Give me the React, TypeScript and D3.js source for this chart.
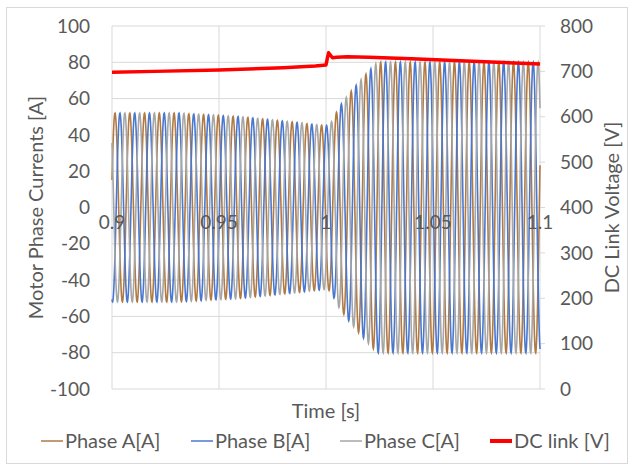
import * as d3 from "d3";
import { useEffect, useRef } from "react";

// axis ticks
const timeTicks = [0.9, 0.95, 1, 1.05, 1.1];
const timeLabels = ["0.9", "0.95", "1", "1.05", "1.1"];
const currentTicks = [-100, -80, -60, -40, -20, 0, 20, 40, 60, 80, 100];
const voltageTicks = [0, 100, 200, 300, 400, 500, 600, 700, 800];

const envTime = [0.9, 0.93, 0.96, 0.985, 1.0, 1.002, 1.0065, 1.0117, 1.0168, 1.0215, 1.024, 1.1];
const envAmp = [52, 52, 50, 47, 45, 46, 56, 64, 71, 77, 80, 80];
const phaseFreq = 145; // Hz, counted from the peaks
const firstPeak = 0.9014; // s, first peak of phase A

// DC link voltage [V]
const dcTime = [0.9, 0.92, 0.95, 0.98, 0.995, 1.0, 1.0006, 1.0012, 1.002, 1.003, 1.005, 1.01, 1.02, 1.04, 1.06, 1.08, 1.1];
const dcVolt = [698, 700, 703, 708, 712, 714, 728, 741, 736, 730, 731, 732, 731, 728, 724, 720, 716];

const series = [
    { name: "Phase A[A]", color: "#b17a45", shift: 0 },
    { name: "Phase B[A]", color: "#4a78cf", shift: 1 },
    { name: "Phase C[A]", color: "#a6a6a6", shift: 2 },
];
const dcSeries = { name: "DC link [V]", color: "#ff0000" };

const font = "Lato, 'Open Sans', sans-serif";
const textColor = "#595959";
const gridColor = "#d9d9d9";

function App() {
    const ref = useRef<SVGSVGElement>(null);

    useEffect(() => {
        const svg = d3.select(ref.current);
        svg.selectAll("*").remove();

        const width = 634;
        const height = 468;
        const left = 112, right = 540, top = 26, bottom = 389;

        svg.attr("width", width).attr("height", height);

        svg.append("rect")
            .attr("width", width).attr("height", height).attr("fill", "#fff");
        svg.append("rect")
            .attr("x", 6.5).attr("y", 7.5).attr("width", 621).attr("height", 456)
            .attr("fill", "none").attr("stroke", gridColor);

        const x = d3.scaleLinear().domain([0.9, 1.1]).range([left, right]);
        const y = d3.scaleLinear().domain([-100, 100]).range([bottom, top]);
        const y2 = d3.scaleLinear().domain([0, 800]).range([bottom, top]);

        // grid
        svg.append("g").selectAll("line")
            .data(currentTicks)
            .enter().append("line")
            .attr("x1", left).attr("x2", right)
            .attr("y1", d => y(d)).attr("y2", d => y(d))
            .attr("stroke", gridColor);
        svg.append("g").selectAll("line")
            .data(timeTicks)
            .enter().append("line")
            .attr("x1", d => x(d)).attr("x2", d => x(d))
            .attr("y1", top).attr("y2", bottom)
            .attr("stroke", gridColor);

        // right axis ticks
        svg.append("g").selectAll("line")
            .data(voltageTicks)
            .enter().append("line")
            .attr("x1", right).attr("x2", right + 5)
            .attr("y1", d => y2(d)).attr("y2", d => y2(d))
            .attr("stroke", gridColor);

        // tick labels
        svg.append("g").selectAll("text")
            .data(currentTicks)
            .enter().append("text")
            .attr("x", 90).attr("y", d => y(d))
            .attr("dy", "0.35em")
            .attr("text-anchor", "end")
            .style("font-family", font).style("font-size", "19px")
            .attr("fill", textColor)
            .text(d => d);
        svg.append("g").selectAll("text")
            .data(voltageTicks)
            .enter().append("text")
            .attr("x", 560).attr("y", d => y2(d))
            .attr("dy", "0.35em")
            .style("font-family", font).style("font-size", "19px")
            .attr("fill", textColor)
            .text(d => d);

        // phase currents
        const amp = d3.scaleLinear().domain(envTime).range(envAmp).clamp(true);
        const step = 1 / (phaseFreq * 48);
        const times = d3.range(0.9, 1.1 + step / 2, step);
        const line = d3.line<[number, number]>()
            .x(d => x(d[0]))
            .y(d => y(d[1]));

        series.forEach(s => {
            const pts: [number, number][] = times.map(t => [
                t,
                amp(t) * Math.cos(2 * Math.PI * phaseFreq * (t - firstPeak) - s.shift * 2 * Math.PI / 3),
            ]);
            svg.append("path")
                .attr("d", line(pts))
                .attr("fill", "none")
                .attr("stroke", s.color)
                .attr("stroke-width", 1.6);
        });

        // x tick labels sit under the zero line
        svg.append("g").selectAll("text")
            .data(timeTicks)
            .enter().append("text")
            .attr("x", d => x(d)).attr("y", y(0) + 15)
            .attr("dy", "0.35em")
            .attr("text-anchor", "middle")
            .style("font-family", font).style("font-size", "19px")
            .attr("fill", textColor)
            .text((d, i) => timeLabels[i]);

        // DC link
        const dcLine = d3.line<number>()
            .x((d, i) => x(dcTime[i]))
            .y(d => y2(d));
        svg.append("path")
            .attr("d", dcLine(dcVolt))
            .attr("fill", "none")
            .attr("stroke", dcSeries.color)
            .attr("stroke-width", 3.5)
            .attr("stroke-linejoin", "round");

        // axis titles
        svg.append("text")
            .attr("transform", `translate(36,${(top + bottom) / 2}) rotate(-90)`)
            .attr("dy", "0.35em")
            .attr("text-anchor", "middle")
            .style("font-family", font).style("font-size", "20px")
            .attr("fill", textColor)
            .text("Motor Phase Currents [A]");
        svg.append("text")
            .attr("transform", `translate(612,${(top + bottom) / 2}) rotate(-90)`)
            .attr("dy", "0.35em")
            .attr("text-anchor", "middle")
            .style("font-family", font).style("font-size", "20px")
            .attr("fill", textColor)
            .text("DC Link Voltage [V]");
        svg.append("text")
            .attr("x", (left + right) / 2).attr("y", 411)
            .attr("dy", "0.35em")
            .attr("text-anchor", "middle")
            .style("font-family", font).style("font-size", "20px")
            .attr("fill", textColor)
            .text("Time [s]");

        // legend
        const legendX = [41, 191, 340, 490];
        const items = [...series.map(s => ({ ...s, w: 1.5 })), { ...dcSeries, w: 4 }];
        const lg = svg.append("g").selectAll("g")
            .data(items)
            .enter().append("g")
            .attr("transform", (d, i) => `translate(${legendX[i]},441)`);
        lg.append("line")
            .attr("x1", 0).attr("x2", 22)
            .attr("stroke", d => d.color)
            .attr("stroke-width", d => d.w);
        lg.append("text")
            .attr("x", 24).attr("dy", "0.35em")
            .style("font-family", font).style("font-size", "20px")
            .attr("fill", textColor)
            .text(d => d.name);
    }, []);

    return (
        <div style={{ position: "absolute", left: 0, top: 0 }}>
            <svg ref={ref} style={{ display: "block" }} />
        </div>
    );
}

export default App;
